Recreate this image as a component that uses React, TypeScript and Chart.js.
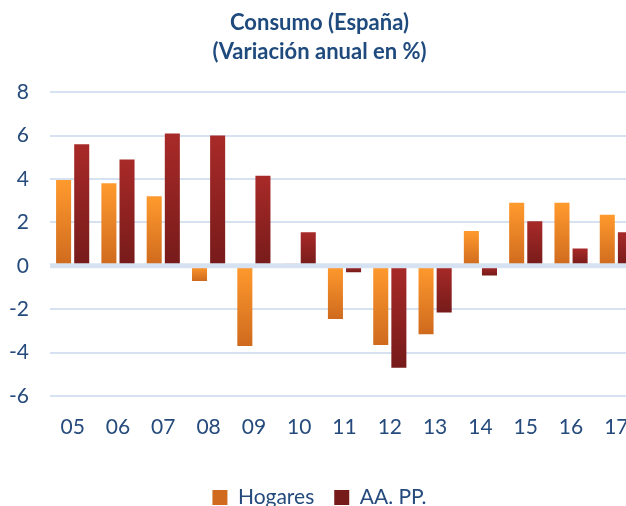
import React, { useEffect, useRef } from "react";
import { Chart, registerables } from "chart.js";

Chart.register(...registerables);

const categories = ["05", "06", "07", "08", "09", "10", "11", "12", "13", "14", "15", "16", "17"];
const hogares = [3.95, 3.8, 3.2, -0.7, -3.7, 0.1, -2.45, -3.65, -3.15, 1.6, 2.9, 2.9, 2.35];
const aapp = [5.6, 4.9, 6.1, 6.0, 4.15, 1.55, -0.3, -4.7, -2.15, -0.45, 2.05, 0.8, 1.55];
const titleLines = ["Consumo (España)", "(Variación anual en %)"];
const seriesNames = ["Hogares", "AA. PP."];

const TEXT = "#254A7C";
const GRID = "#D6E2F1";
const FONT = "Lato, 'Open Sans', sans-serif";

function gradientFill(top: string, bottom: string, solid: string) {
  return (ctx: any) => {
    if (ctx.type !== "data") return solid;
    const chart = ctx.chart;
    const y = chart.scales && chart.scales.y;
    if (!y) return solid;
    const v = ctx.raw as number;
    const p0 = y.getPixelForValue(0);
    const p1 = y.getPixelForValue(v);
    if (!isFinite(p0) || !isFinite(p1)) return solid;
    const t = Math.min(p0, p1);
    const b = Math.max(p0, p1);
    if (b - t < 1) return solid;
    const g = chart.ctx.createLinearGradient(0, t, 0, b);
    g.addColorStop(0, top);
    g.addColorStop(1, bottom);
    return g;
  };
}

const zeroLine = {
  id: "zeroLine",
  afterDatasetsDraw(chart: any) {
    const y = chart.scales.y;
    const area = chart.chartArea;
    const py = y.getPixelForValue(0);
    const c = chart.ctx;
    c.save();
    c.strokeStyle = GRID;
    c.lineWidth = 5;
    c.beginPath();
    c.moveTo(area.left, py);
    c.lineTo(area.right, py);
    c.stroke();
    c.restore();
  },
};

export default function App() {
  const ref = useRef<HTMLCanvasElement>(null);
  useEffect(() => {
    if (!ref.current) return;
    const chart = new Chart(ref.current, {
      type: "bar",
      data: {
        labels: categories,
        datasets: [
          {
            label: seriesNames[0],
            data: hogares,
            backgroundColor: gradientFill("#FF9A2E", "#CF6A1E", "#F48A26"),
            borderWidth: 0,
            barPercentage: 0.83,
            categoryPercentage: 0.8,
          },
          {
            label: seriesNames[1],
            data: aapp,
            backgroundColor: gradientFill("#A82A28", "#761B1A", "#92211F"),
            borderWidth: 0,
            barPercentage: 0.83,
            categoryPercentage: 0.8,
          },
        ],
      },
      options: {
        responsive: false,
        animation: false,
        layout: { padding: { left: 0, right: 11, top: 0, bottom: 0 } },
        plugins: {
          title: {
            display: true,
            text: titleLines,
            color: "#1F4A7D",
            font: { family: FONT, size: 22, weight: "bold", lineHeight: 1.3 },
            padding: { top: 9, bottom: 26 },
          },
          legend: {
            position: "bottom",
            labels: {
              color: TEXT,
              font: { family: FONT, size: 21 },
              boxWidth: 15,
              boxHeight: 15,
              padding: 20,
            },
          },
          tooltip: { enabled: false },
        },
        scales: {
          x: {
            afterFit: (s: any) => {
              s.height = 71;
            },
            grid: { display: false },
            border: { display: false },
            ticks: { color: TEXT, font: { family: FONT, size: 21 }, padding: 11 },
          },
          y: {
            min: -6,
            max: 8,
            afterFit: (s: any) => {
              s.width = 50;
            },
            ticks: { stepSize: 2, color: TEXT, font: { family: FONT, size: 21 }, padding: 21 },
            grid: { color: GRID, lineWidth: 2, drawTicks: false },
            border: { display: false },
          },
        },
      },
      plugins: [zeroLine],
    });
    return () => chart.destroy();
  }, []);
  return (
    <div
      style={{
        position: "fixed",
        left: 0,
        top: 0,
        width: 626,
        height: 506,
        overflow: "hidden",
        background: "#fff",
      }}
    >
      <canvas ref={ref} width={650} height={518} style={{ display: "block" }} />
    </div>
  );
}
